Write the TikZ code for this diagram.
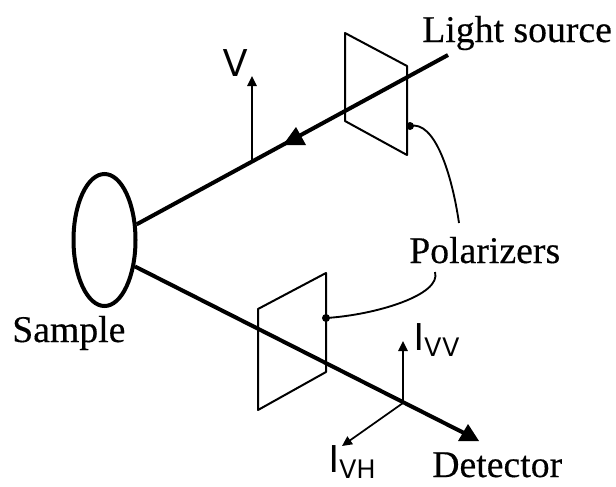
\documentclass[tikz,border=0pt]{standalone}
\usepackage{fontspec}
\setmainfont{Liberation Serif}
\newfontfamily\captionfont{Liberation Serif}[RawFeature={embolden=0.35}]
\newfontfamily\labelfont{Poppins}
\usetikzlibrary{arrows.meta,shapes.geometric}
\tikzset{
  caption/.style={anchor=base west, inner sep=0pt, font=\captionfont\fontsize{28.3}{30}\selectfont},
  symbol/.style={anchor=base west, inner sep=0pt, font=\labelfont\fontsize{29}{31}\selectfont},
  beam/.style={draw=black, line width=3pt},
  plate/.style={draw=black, line width=1.5pt, line join=round},
  leader/.style={draw=black, line width=1.4pt},
  axis/.style={draw=black, line width=1.3pt, -{Triangle[length=7.5pt,width=7pt]}},
  tipmark/.style={fill=black}
}
\newcommand{\lowsub}[1]{\raisebox{-5pt}{\fontsize{20}{22}\selectfont #1}}
\begin{document}
\begin{tikzpicture}[x=0.75pt,y=-0.75pt]
\useasboundingbox (0,0) rectangle (616,486);
\node [draw=black, line width=3pt, ellipse, inner sep=0pt, minimum width=46.5pt, minimum height=99pt] (sample) at (104.5,240) {};
\coordinate (source) at (448,55);
\coordinate (detector) at (466,434);
\coordinate (vfoot) at (252,161);
\coordinate (vtop) at (252,76);
\coordinate (ifoot) at (403,403);
\coordinate (ivvtop) at (403,341);
\coordinate (ivhtop) at (342,446);
\coordinate (dotone) at (410,126);
\coordinate (dottwo) at (326,318);
\coordinate (polone) at (459,223);
\coordinate (poltwo) at (435,272);
\draw [plate] (345,33) -- (407,66) -- (407,155) -- (345,121) -- cycle;
\draw [plate] (258,309) -- (326,273) -- (326,372) -- (258,410) -- cycle;
\draw [beam] (sample.26) -- (source);
\draw [beam] (sample.-41) -- (detector);
\fill [tipmark] (296,127) -- (306,145) -- (283,145) -- cycle;
\fill [tipmark] (468,424) -- (479,441) -- (458,441) -- cycle;
\draw [axis] (vfoot) -- (vtop);
\draw [axis] (ifoot) -- (ivvtop);
\draw [axis] (ifoot) -- (ivhtop);
\draw [leader] (dotone) .. controls (435,120) and (452,175) .. (polone);
\draw [leader] (dottwo) .. controls (375,315) and (442,295) .. (poltwo);
\fill (dotone) circle [radius=4];
\fill (dottwo) circle [radius=4];
\node [caption] (lightlabel) at (422,42) {Light source};
\node [caption] (polarlabel) at (409,263) {Polarizers};
\node [caption] (samplelabel) at (12,342) {Sample};
\node [caption] (detectlabel) at (432,477) {Detector};
\node [symbol] (vlabel) at (222,76) {V};
\node [symbol] (ivvlabel) at (414,350) {I\lowsub{VV}};
\node [symbol] (ivhlabel) at (329,472) {I\lowsub{VH}};
\end{tikzpicture}
\end{document}
